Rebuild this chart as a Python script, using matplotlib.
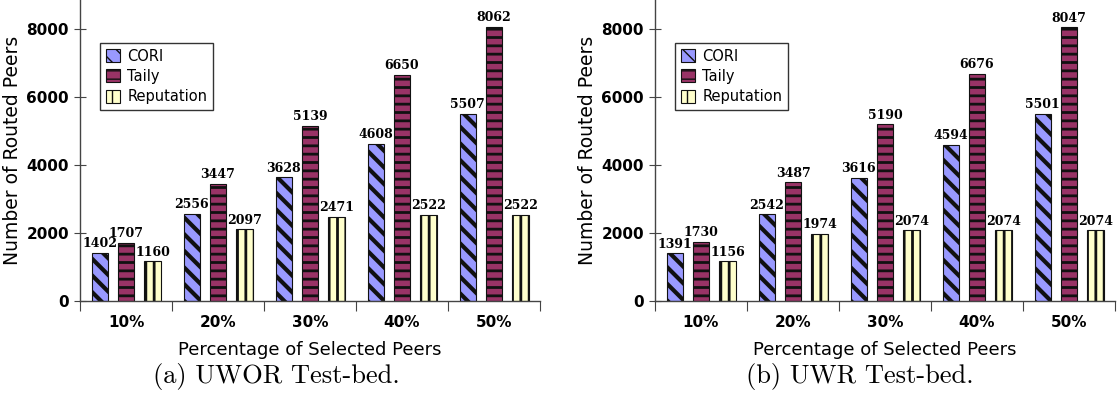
import matplotlib
matplotlib.use("Agg")
import matplotlib.pyplot as plt
import numpy as np

groups = ['10%', '20%', '30%', '40%', '50%']
series = ['CORI', 'Taily', 'Reputation']

uwor_cori = [1402, 2556, 3628, 4608, 5507]
uwor_taily = [1707, 3447, 5139, 6650, 8062]
uwor_rep = [1160, 2097, 2471, 2522, 2522]

uwr_cori = [1391, 2542, 3616, 4594, 5501]
uwr_taily = [1730, 3487, 5190, 6676, 8047]
uwr_rep = [1156, 1974, 2074, 2074, 2074]

captions = ['(a) UWOR Test-bed.', '(b) UWR Test-bed.']

colors = ['#9999ff', '#993366', '#ffffcc']
hatches = ['\\\\', '--', '||']
hatch_lw = [3.0, 2.0, 2.0]
offsets = [-0.285, 0.0, 0.29]
width = 0.18

fig = plt.figure(figsize=(11.17, 4.12), dpi=100)
ax1 = fig.add_axes([80 / 1117, 0.2701, 460 / 1117, 0.7299])
ax2 = fig.add_axes([655 / 1117, 0.2701, 460 / 1117, 0.7299])

x = np.arange(len(groups)) + 0.5

for ax, data in [(ax1, [uwor_cori, uwor_taily, uwor_rep]),
                 (ax2, [uwr_cori, uwr_taily, uwr_rep])]:
    for vals, name, c, h, hl, off in zip(data, series, colors, hatches, hatch_lw, offsets):
        with plt.rc_context({'hatch.linewidth': hl, 'hatch.color': 'black'}):
            bars = ax.bar(x + off, vals, width, color=c, edgecolor='#111111',
                          linewidth=0.8, hatch=h, label=name)
        for b in bars:
            if hasattr(b, 'set_hatch_linewidth'):
                b.set_hatch_linewidth(hl)
        for xi, v in zip(x + off, vals):
            ax.text(xi, v + 80, str(v), ha='center', va='bottom',
                    fontfamily='DejaVu Serif', fontweight='bold', fontsize=9)

    ax.set_xlim(0, 5)
    ax.set_ylim(0, 8850)
    ax.set_yticks([0, 2000, 4000, 6000, 8000])
    ax.set_xticks(np.arange(6))
    ax.set_xticklabels([])
    ax.set_xticks(x, minor=True)
    ax.set_xticklabels(groups, minor=True)
    ax.tick_params(axis='x', which='major', direction='out', length=7, color='#444444')
    ax.tick_params(axis='x', which='minor', length=0, pad=10, labelsize=11)
    ax.tick_params(axis='y', direction='inout', length=9, color='#444444', labelsize=11)
    for lab in ax.get_xticklabels(minor=True) + ax.get_yticklabels():
        lab.set_fontweight('bold')
    ax.spines['top'].set_visible(False)
    ax.spines['right'].set_visible(False)
    for s in ['left', 'bottom']:
        ax.spines[s].set_color('#444444')
        ax.spines[s].set_linewidth(1.0)
    ax.set_xlabel('Percentage of Selected Peers', fontsize=13, labelpad=8)
    ax.set_ylabel('Number of Routed Peers', fontsize=13.5, labelpad=3)
    leg = ax.legend(loc='upper left', bbox_to_anchor=(0.043, 0.857), borderaxespad=0,
                    fontsize=10.5, handlelength=1.0, handleheight=1.0,
                    handletextpad=0.5, labelspacing=0.35, fancybox=False,
                    edgecolor='#333333', framealpha=1)
    leg.get_frame().set_linewidth(1.0)

fig.text(0.247, 0.085, captions[0], ha='center', va='center',
         fontfamily='cmr10', fontsize=19)
fig.text(0.77, 0.085, captions[1], ha='center', va='center',
         fontfamily='cmr10', fontsize=19)

fig.savefig('out.png', dpi=100)
